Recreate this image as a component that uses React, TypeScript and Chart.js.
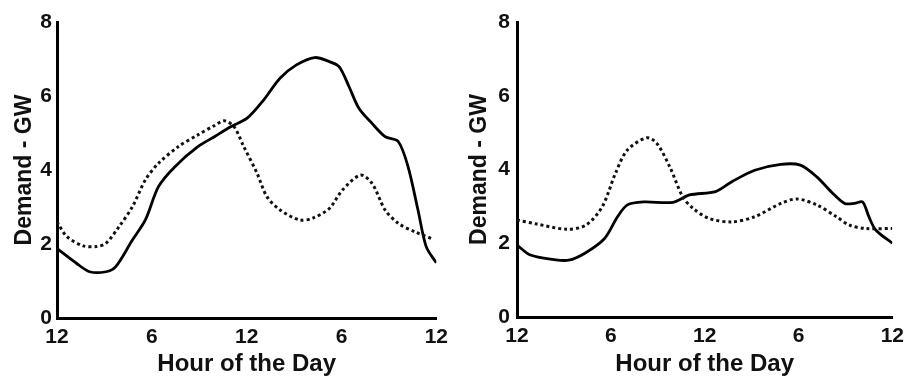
import React, { useEffect, useRef } from "react";
import { Chart, registerables } from "chart.js";

Chart.register(...registerables);

// ---- data (hour of day 0..24, demand in GW) ----
const xTickLabels = ["12", "6", "12", "6", "12"];
const xTickHours = [0, 6, 12, 18, 24];
const yTickValues = [0, 2, 4, 6, 8];

const leftSolidHours = [0, 1.23, 2.06, 3.1, 3.72, 4.76, 5.59, 6.42, 7.46, 8.91, 9.96, 10.99, 12.03, 13.07, 14.11, 15.15, 16.3, 17.23, 17.86, 18.48, 19.1, 19.93, 20.76, 21.59, 22.21, 22.84, 23.36, 24];
const leftSolidGW = [1.88, 1.48, 1.25, 1.25, 1.39, 2.1, 2.65, 3.55, 4.09, 4.63, 4.9, 5.17, 5.4, 5.89, 6.48, 6.84, 7.04, 6.93, 6.79, 6.25, 5.67, 5.26, 4.9, 4.77, 4.09, 2.92, 1.93, 1.49];

const leftDottedHours = [0, 0.62, 1.66, 2.49, 3.1, 3.93, 4.76, 5.59, 6.42, 7.67, 8.91, 9.96, 10.58, 11.2, 11.82, 12.66, 13.28, 14.11, 15.36, 16.19, 17.23, 18.06, 19.2, 19.93, 20.76, 21.59, 22.63, 23.75];
const leftDottedGW = [2.6, 2.2, 1.95, 1.93, 2.02, 2.47, 3.0, 3.73, 4.18, 4.63, 4.95, 5.2, 5.33, 5.17, 4.63, 3.91, 3.28, 2.92, 2.65, 2.7, 2.96, 3.46, 3.86, 3.64, 2.92, 2.56, 2.33, 2.14];

const rightSolidHours = [0, 0.86, 2.3, 3.3, 4.34, 5.6, 6.43, 7.06, 8.1, 9.98, 11.03, 12.7, 13.74, 15.2, 16.87, 18.12, 19.17, 20.2, 20.95, 21.58, 22.1, 22.5, 22.94, 24];
const rightSolidGW = [1.95, 1.68, 1.56, 1.54, 1.73, 2.13, 2.72, 3.04, 3.12, 3.11, 3.31, 3.4, 3.67, 3.98, 4.14, 4.12, 3.8, 3.35, 3.08, 3.08, 3.12, 2.72, 2.36, 2.0];

const rightDottedHours = [0, 1.28, 3.17, 4.4, 5.45, 6.29, 7.06, 8.3, 8.94, 9.77, 10.6, 11.25, 12.3, 13.74, 15.2, 16.87, 17.9, 19.17, 20.42, 21.26, 22.3, 24];
const rightDottedGW = [2.63, 2.52, 2.38, 2.49, 2.99, 3.89, 4.53, 4.86, 4.71, 4.07, 3.26, 2.95, 2.67, 2.58, 2.72, 3.08, 3.2, 3.04, 2.72, 2.49, 2.4, 2.4];

const yAxisTitle = "Demand - GW";
const xAxisTitle = "Hour of the Day";

type PanelProps = {
  solidHours: number[];
  solidGW: number[];
  dottedHours: number[];
  dottedGW: number[];
  width: number;
  height: number;
  areaLeft: number;
  areaRight: number;
  areaTop: number;
  areaBottom: number;
  yTickPad: number;
};

const FONT = "'Liberation Sans', Arial, sans-serif";
const INK = "#111";

function zip(xs: number[], ys: number[]) {
  return xs.map((x, i) => ({ x, y: ys[i] }));
}

function Panel(p: PanelProps) {
  const ref = useRef<HTMLCanvasElement | null>(null);
  useEffect(() => {
    if (!ref.current) return;
    const chart = new Chart(ref.current, {
      type: "line",
      data: {
        datasets: [
          {
            data: zip(p.dottedHours, p.dottedGW),
            borderColor: "#111",
            borderWidth: 3,
            borderDash: [3, 3],
            pointRadius: 0,
            tension: 0.3,
            fill: false,
          },
          {
            data: zip(p.solidHours, p.solidGW),
            borderColor: "#000",
            borderWidth: 2.8,
            pointRadius: 0,
            tension: 0.3,
            fill: false,
          },
        ],
      },
      options: {
        animation: false,
        responsive: false,
        maintainAspectRatio: false,
        layout: {
          padding: {
            left: 0,
            top: p.areaTop,
            right: p.width - p.areaRight,
            bottom: 0,
          },
        },
        plugins: {
          legend: { display: false },
          tooltip: { enabled: false },
        },
        scales: {
          x: {
            type: "linear",
            min: 0,
            max: 24,
            afterFit: (s: any) => {
              s.height = p.height - p.areaBottom;
            },
            afterBuildTicks: (s: any) => {
              s.ticks = xTickHours.map((v) => ({ value: v }));
            },
            grid: { display: false, drawTicks: false },
            border: { display: true, color: "#000", width: 3 },
            ticks: {
              autoSkip: false,
              maxRotation: 0,
              padding: 7,
              color: INK,
              font: { family: FONT, size: 21, weight: "bold" },
              callback: (v: any) => {
                const i = xTickHours.indexOf(Number(v));
                return i >= 0 ? xTickLabels[i] : "";
              },
            },
            title: {
              display: true,
              text: xAxisTitle,
              color: INK,
              font: { family: FONT, size: 24, weight: "bold" },
              padding: { top: 0, bottom: 0 },
            },
          },
          y: {
            type: "linear",
            min: 0,
            max: 8,
            afterFit: (s: any) => {
              s.width = p.areaLeft;
            },
            afterBuildTicks: (s: any) => {
              s.ticks = yTickValues.map((v) => ({ value: v }));
            },
            grid: { display: false, drawTicks: false },
            border: { display: true, color: "#000", width: 3 },
            ticks: {
              padding: p.yTickPad,
              color: INK,
              font: { family: FONT, size: 21, weight: "bold" },
            },
            title: {
              display: true,
              text: yAxisTitle,
              color: INK,
              font: { family: FONT, size: 23, weight: "bold" },
              padding: { top: 11, bottom: 0 },
            },
          },
        },
      },
    } as any);
    return () => chart.destroy();
  }, []);
  return (
    <canvas
      ref={ref}
      width={p.width}
      height={p.height}
      style={{ width: p.width, height: p.height, display: "block" }}
    />
  );
}

export default function App() {
  return (
    <div
      style={{
        position: "fixed",
        left: 0,
        top: 0,
        width: 911,
        height: 379,
        background: "#fff",
        display: "flex",
      }}
    >
      <Panel
        solidHours={leftSolidHours}
        solidGW={leftSolidGW}
        dottedHours={leftDottedHours}
        dottedGW={leftDottedGW}
        width={455}
        height={379}
        areaLeft={57}
        areaRight={441}
        areaTop={22}
        areaBottom={318}
        yTickPad={5}
      />
      <Panel
        solidHours={rightSolidHours}
        solidGW={rightSolidGW}
        dottedHours={rightDottedHours}
        dottedGW={rightDottedGW}
        width={456}
        height={379}
        areaLeft={62}
        areaRight={445}
        areaTop={22}
        areaBottom={317}
        yTickPad={7}
      />
    </div>
  );
}
